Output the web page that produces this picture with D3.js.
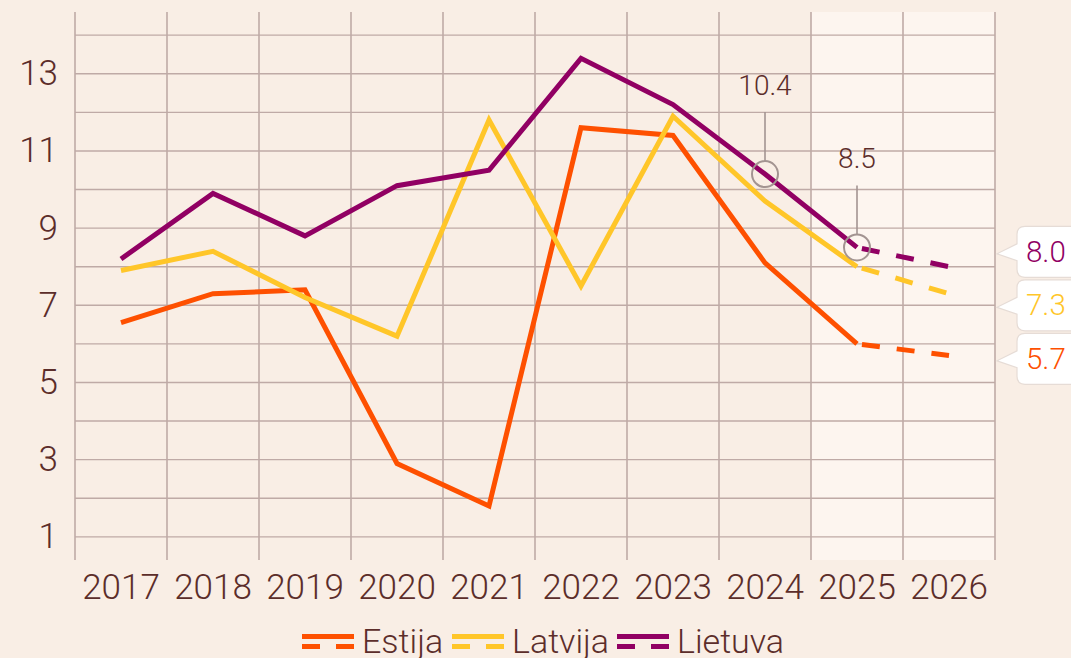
<!DOCTYPE html>
<html>
<head>
<meta charset="utf-8">
<script src="https://cdn.jsdelivr.net/npm/d3@7"></script>
<style>
  html, body { margin: 0; padding: 0; background: #f9eee5; }
  svg { display: block; font-family: Roboto, "Noto Sans", sans-serif; }
</style>
</head>
<body>
<svg id="chart" width="1071" height="658"></svg>
<script>
// ---- data ----
const years = ["2017","2018","2019","2020","2021","2022","2023","2024","2025","2026"];
const forecastStart = "2025";
const seriesNames = ["Estija", "Latvija", "Lietuva"];
const estija  = [6.55, 7.3, 7.4, 2.9, 1.8, 11.6, 11.4, 8.1, 6.0, 5.7];
const latvija = [7.9, 8.4, 7.2, 6.2, 11.8, 7.5, 11.9, 9.7, 8.0, 7.3];
const lietuva = [8.2, 9.9, 8.8, 10.1, 10.5, 13.4, 12.2, 10.4, 8.5, 8.0];
const yTickLabels = [1, 3, 5, 7, 9, 11, 13];
const yGrid = [1,2,3,4,5,6,7,8,9,10,11,12,13,14];
const endLabels = ["5.7", "7.3", "8.0"];
const annotations = [{series: "Lietuva", year: "2024", text: "10.4"}, {series: "Lietuva", year: "2025", text: "8.5"}];

const colors = {Estija: "#fe5000", Latvija: "#ffc629", Lietuva: "#910063"};
const seriesData = {Estija: estija, Latvija: latvija, Lietuva: lietuva};
const textColor = "#5c2d2a";
const gridColor = "#bfaaa6";

const svg = d3.select("#chart");
const pLeft = 75, pRight = 995, pTop = 12, pBottom = 560;

const x = d3.scaleBand().domain(years).range([pLeft, pRight]).padding(0);
const cx = d => x(d) + x.bandwidth() / 2;
const y = d3.scaleLinear().domain([0.4, 14.6]).range([pBottom, pTop]);

// forecast shading
svg.append("rect")
  .attr("x", x(forecastStart)).attr("y", pTop)
  .attr("width", pRight - x(forecastStart)).attr("height", pBottom - pTop)
  .attr("fill", "#fdf5ef");

// horizontal grid
svg.append("g").selectAll("line").data(yGrid).join("line")
  .attr("x1", pLeft).attr("x2", pRight)
  .attr("y1", d => y(d)).attr("y2", d => y(d))
  .attr("stroke", gridColor).attr("stroke-width", 1.4);

// vertical grid
const vlines = years.map(d => x(d)).concat([pRight]);
svg.append("g").selectAll("line").data(vlines).join("line")
  .attr("x1", d => d).attr("x2", d => d)
  .attr("y1", pTop).attr("y2", pBottom)
  .attr("stroke", gridColor).attr("stroke-width", 1.6);

// y labels
svg.append("g").selectAll("text").data(yTickLabels).join("text")
  .attr("x", 58).attr("y", d => y(d))
  .attr("text-anchor", "end").attr("dominant-baseline", "central")
  .attr("font-size", 35).attr("font-weight", 300).attr("fill", textColor)
  .text(d => d);

// x labels
svg.append("g").selectAll("text").data(years).join("text")
  .attr("x", d => cx(d)).attr("y", 599)
  .attr("text-anchor", "middle")
  .attr("font-size", 35).attr("font-weight", 300).attr("fill", textColor)
  .text(d => d);

// lines
const line = d3.line().x(d => cx(d.year)).y(d => y(d.value));
const fi = years.indexOf(forecastStart);
seriesNames.forEach(name => {
  const pts = years.map((yr, i) => ({year: yr, value: seriesData[name][i]}));
  svg.append("path").datum(pts.slice(0, fi + 1))
    .attr("d", line).attr("fill", "none")
    .attr("stroke", colors[name]).attr("stroke-width", 5)
    .attr("stroke-linejoin", "miter");
  svg.append("path").datum(pts.slice(fi))
    .attr("d", line).attr("fill", "none")
    .attr("stroke", colors[name]).attr("stroke-width", 5)
    .attr("stroke-dasharray", "18,17").attr("stroke-dashoffset", 30);
});

// annotations
const annoColor = "#a39491";
annotations.forEach(a => {
  const i = years.indexOf(a.year);
  const px = cx(a.year), py = y(seriesData[a.series][i]);
  const r = 13;
  svg.append("circle").attr("cx", px).attr("cy", py).attr("r", r)
    .attr("fill", "none").attr("stroke", annoColor).attr("stroke-width", 2);
  svg.append("line").attr("x1", px).attr("x2", px)
    .attr("y1", py - r).attr("y2", py - r - 49)
    .attr("stroke", annoColor).attr("stroke-width", 1.6);
  svg.append("text").attr("x", px).attr("y", py - r - 66)
    .attr("text-anchor", "middle").attr("font-size", 28).attr("font-weight", 300)
    .attr("fill", textColor).text(a.text);
});

// end labels with dodge
const lastI = years.length - 1;
let labs = seriesNames.map((name, k) => ({name, text: endLabels[k], target: y(seriesData[name][lastI])}));
labs.sort((a, b) => a.target - b.target);
const h = 51, gap = 2.5, step = h + gap;
labs.forEach(l => l.pos = l.target);
for (let iter = 0; iter < 50; iter++) {
  for (let k = 1; k < labs.length; k++) {
    const d = labs[k].pos - labs[k-1].pos;
    if (d < step) {
      const push = (step - d) / 2;
      labs[k].pos += push; labs[k-1].pos -= push;
    }
  }
}
const bx = 1017, bw = 70, tipX = 997;
labs.forEach(l => {
  const g = svg.append("g");
  const top0 = l.pos - h / 2;
  const tY = l.pos + 2;
  g.append("path")
    .attr("d", `M${bx + 8},${top0} H${bx + bw - 8} Q${bx + bw},${top0} ${bx + bw},${top0 + 8} V${top0 + h - 8} Q${bx + bw},${top0 + h} ${bx + bw - 8},${top0 + h} H${bx + 8} Q${bx},${top0 + h} ${bx},${top0 + h - 8} V${tY + 7} L${tipX},${tY} L${bx},${tY - 10} V${top0 + 8} Q${bx},${top0} ${bx + 8},${top0} Z`)
    .attr("fill", "#ffffff").attr("stroke", "#e6dcd6").attr("stroke-width", 1.2);
  g.append("text").attr("x", bx + 9).attr("y", l.pos)
    .attr("dominant-baseline", "central")
    .attr("font-size", 29.5).attr("font-weight", 300)
    .attr("fill", colors[l.name]).text(l.text);
});

// legend
const legendX = [302, 452, 617];
const lg = svg.append("g");
seriesNames.forEach((name, k) => {
  const lx = legendX[k];
  lg.append("rect").attr("x", lx).attr("y", 634).attr("width", 52).attr("height", 5).attr("fill", colors[name]);
  lg.append("rect").attr("x", lx).attr("y", 644).attr("width", 18).attr("height", 5).attr("fill", colors[name]);
  lg.append("rect").attr("x", lx + 34).attr("y", 644).attr("width", 18).attr("height", 5).attr("fill", colors[name]);
  lg.append("text").attr("x", lx + 60).attr("y", 653)
    .attr("font-size", 34).attr("font-weight", 300).attr("fill", textColor).text(name);
});
</script>
</body>
</html>
